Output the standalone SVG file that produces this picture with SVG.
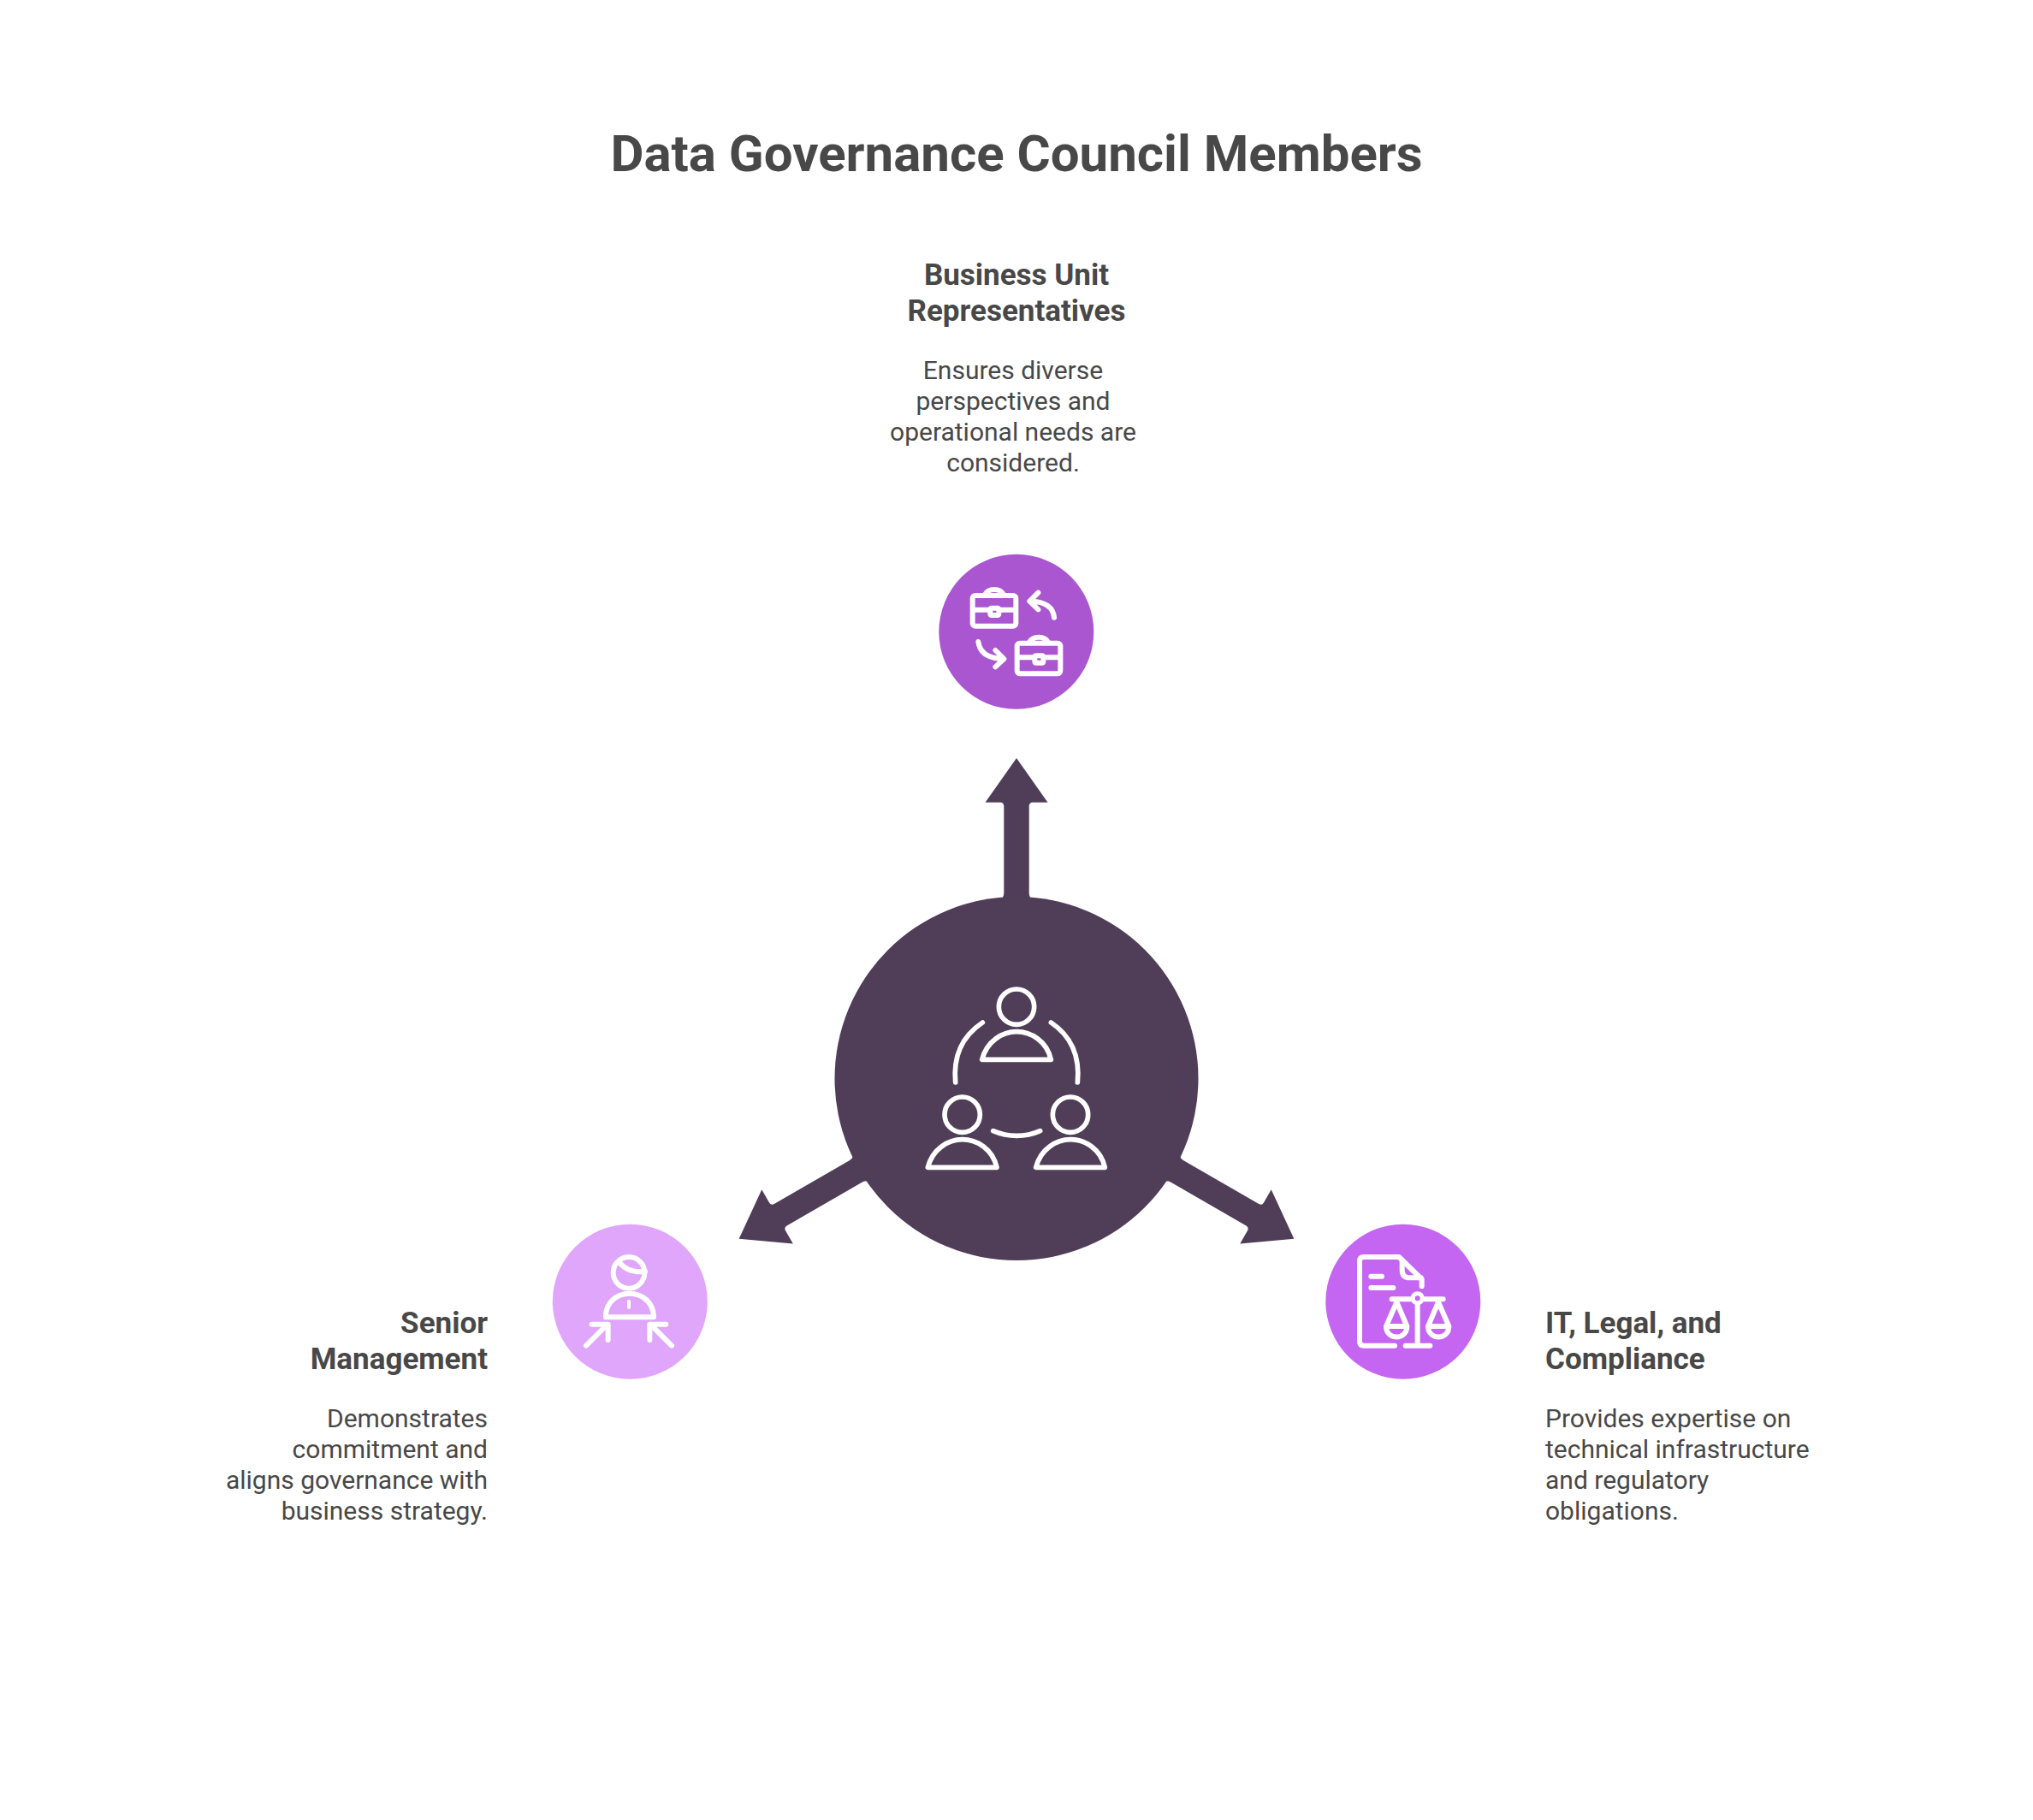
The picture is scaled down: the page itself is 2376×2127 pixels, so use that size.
<svg xmlns="http://www.w3.org/2000/svg" width="2376" height="2127" viewBox="0 0 2376 2127">
<style>
text{font-family:Roboto,"Liberation Sans",sans-serif;fill:#484848}
.t{font-size:60px;font-weight:700;text-anchor:middle}
.h{font-size:35px;font-weight:700}
.b{font-size:30px;font-weight:400}
.m{text-anchor:middle}
.e{text-anchor:end}
.arrow{fill:#503e58}
.ic{fill:none;stroke:#fff;stroke-linecap:round;stroke-linejoin:round}
</style>
<rect width="2376" height="2127" fill="#fff"/>
<g id="title"><text class="t" x="1188" y="199.5">Data Governance Council Members</text></g>
<g id="connectors">
<path class="arrow" d="M-19-208Q-14.7-212-14.7-217V-318Q-14.7-322.7-19-322.7H-36.5L0-374.5L36.5-322.7H19Q14.7-322.7 14.7-318V-217Q14.7-212 19-208Z" transform="translate(1188 1260.5)"/>
<path class="arrow" d="M-19-208Q-14.7-212-14.7-217V-318Q-14.7-322.7-19-322.7H-36.5L0-374.5L36.5-322.7H19Q14.7-322.7 14.7-318V-217Q14.7-212 19-208Z" transform="translate(1188 1260.5) rotate(120)"/>
<path class="arrow" d="M-19-208Q-14.7-212-14.7-217V-318Q-14.7-322.7-19-322.7H-36.5L0-374.5L36.5-322.7H19Q14.7-322.7 14.7-318V-217Q14.7-212 19-208Z" transform="translate(1188 1260.5) rotate(240)"/>
</g>
<g id="node-center">
<circle cx="1188" cy="1260.5" r="212.5" fill="#503e58"/>
<g class="ic" stroke-width="17" transform="translate(960 1030) scale(.33333)">
<circle cx="684" cy="440" r="62"/>
<path d="M563 625H805C790 560 735 527 684 527C635 527 580 560 563 625Z"/>
<circle cx="494" cy="818" r="62"/>
<path d="M373 1003H615C600 938 545 905 494 905C445 905 390 938 373 1003Z"/>
<circle cx="873" cy="818" r="62"/>
<path d="M752 1003H994C979 938 924 905 873 905C824 905 769 938 752 1003Z"/>
<path d="M565 495C505 535 460 600 470 705"/>
<path d="M805 495C865 535 908 600 898 705"/>
<path d="M602 875C655 898 715 898 767 875"/>
</g>
</g>
<g id="node-business">
<circle cx="1187.8" cy="738.3" r="90.5" fill="#ab56d1"/>
<g class="ic" stroke-width="18" transform="translate(1060 620) scale(.33333)">
<rect x="230" y="228" width="152" height="107" rx="10"/>
<path d="M272 226Q282 207 306 207Q330 207 340 226"/>
<path d="M232 278H290M324 278H380"/>
<rect x="292" y="272" width="30" height="25" rx="4"/>
<rect x="386" y="395" width="152" height="107" rx="10"/>
<path d="M428 393Q438 374 462 374Q486 374 496 393"/>
<path d="M388 445H446M480 445H536"/>
<rect x="448" y="439" width="30" height="25" rx="4"/>
<path d="M516 305C513 270 485 250 437 248M460 218L430 248L460 277"/>
<path d="M250 390C255 430 285 448 335 450M310 420L340 450L310 478"/>
</g>
</g>
<g id="node-senior">
<circle cx="736.3" cy="1521.2" r="90.5" fill="#dfa6fb"/>
<g class="ic" stroke-width="18" transform="translate(620 1410) scale(.33333)">
<circle cx="345" cy="232" r="55"/>
<path d="M312 196C335 225 365 232 402 228"/>
<path d="M264 388C262 340 300 305 347 305C395 305 432 340 432 388H264Z"/>
<path d="M345 332V354" stroke-width="12"/>
<path d="M195 488L270 413M215 413H272V468"/>
<path d="M495 488L420 413M475 413H418V468"/>
</g>
</g>
<g id="node-it">
<circle cx="1639.8" cy="1521.2" r="90.5" fill="#c566f2"/>
<g class="ic" stroke-width="18" transform="translate(1530 1410) scale(.33333)">
<path d="M300 488H192Q177 488 177 473V192Q177 177 192 177H315L395 255V280"/>
<path d="M326 188V222Q326 250 352 250H392"/>
<path d="M217 245H255M217 285H295"/>
<circle cx="380" cy="322" r="17" stroke-width="15"/>
<path d="M290 325H362M398 325H470M380 340V488M338 488H424"/>
<path d="M307 335L270 420C270 470 343 470 343 420L307 335ZM270 420H343"/>
<path d="M453 335L417 420C417 470 490 470 490 420L453 335ZM417 420H490"/>
</g>
</g>
<g id="label-business">
<text class="h m" x="1188" y="332.7">Business Unit</text>
<text class="h m" x="1188" y="375.3">Representatives</text>
<text class="b m" x="1184" y="443.3">Ensures diverse</text>
<text class="b m" x="1184" y="479.3">perspectives and</text>
<text class="b m" x="1184" y="515">operational needs are</text>
<text class="b m" x="1184" y="551">considered.</text>
</g>
<g id="label-senior">
<text class="h e" x="570" y="1557.5">Senior</text>
<text class="h e" x="570" y="1600">Management</text>
<text class="b e" x="570" y="1667.6">Demonstrates</text>
<text class="b e" x="570" y="1703.6">commitment and</text>
<text class="b e" x="570" y="1739.8">aligns governance with</text>
<text class="b e" x="570" y="1775.8">business strategy.</text>
</g>
<g id="label-it">
<text class="h" x="1806" y="1557.5">IT, Legal, and</text>
<text class="h" x="1806" y="1600">Compliance</text>
<text class="b" x="1806" y="1667.6">Provides expertise on</text>
<text class="b" x="1806" y="1703.6">technical infrastructure</text>
<text class="b" x="1806" y="1739.8">and regulatory</text>
<text class="b" x="1806" y="1775.8">obligations.</text>
</g>
</svg>
